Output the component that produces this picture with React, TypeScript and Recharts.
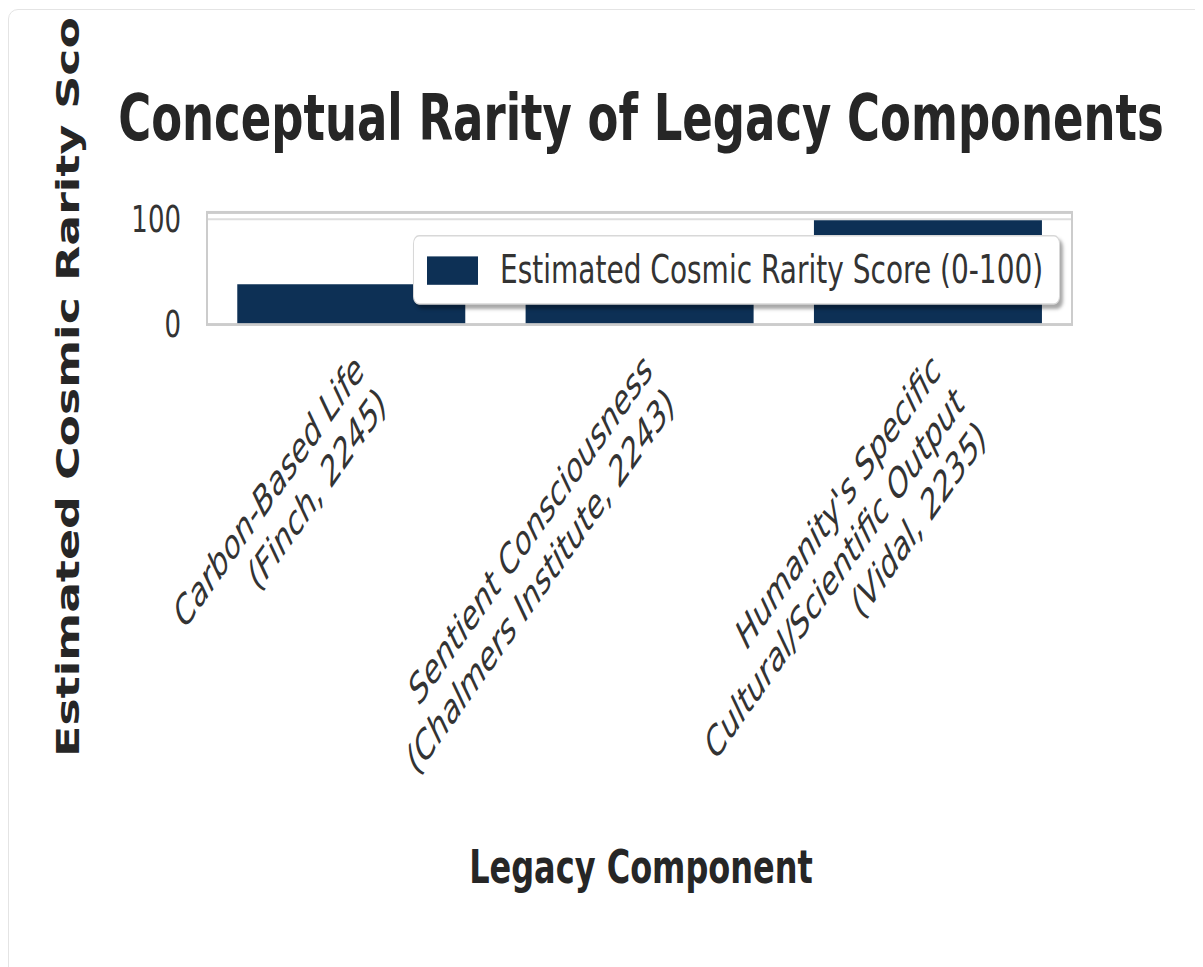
import React from 'react';
import { BarChart, Bar, XAxis, YAxis, CartesianGrid, Legend } from 'recharts';

const categories = [
  'Carbon-Based Life\n(Finch, 2245)',
  'Sentient Consciousness\n(Chalmers Institute, 2243)',
  "Humanity's Specific\nCultural/Scientific Output\n(Vidal, 2235)",
];
const rarityScores = [38, 65, 99];
const yTicks = [0, 100];
const seriesName = 'Estimated Cosmic Rarity Score (0-100)';
const chartTitle = 'Conceptual Rarity of Legacy Components';
const xTitle = 'Legacy Component';

const chartData = categories.map((name, i) => ({ name, score: rarityScores[i] }));

const BAR_COLOR = '#0d3055';
const TEXT = '#333333';
const FONT = '"DejaVu Sans", sans-serif';
// the reference image is stretched vertically, so draw flat and scale up
const STRETCH = 1.42;

const WIDTH = 1190;
const HEIGHT = 670;
const PLOT = { left: 198, top: 139.4, width: 865, height: 78.2 };
const Y_AXIS_W = 60;
const X_AXIS_H = 300;

function CategoryTick(props: { x?: number; y?: number; payload?: { value: string } }) {
  const { x = 0, y = 0, payload } = props;
  const lines = String(payload?.value ?? '').split('\n');
  return (
    <g transform={`translate(${x + 15},${y + 34}) rotate(-45)`}>
      {lines.map((line, i) => (
        <text
          key={i}
          x={0}
          y={i * 33}
          textAnchor="end"
          fill={TEXT}
          fontSize={28}
          fontStyle="italic"
          fontFamily={FONT}
        >
          {line}
        </text>
      ))}
    </g>
  );
}

function LegendBox() {
  return (
    <div
      style={{
        boxSizing: 'border-box',
        width: '100%',
        height: '100%',
        background: '#fff',
        border: '1px solid #d8d8d8',
        borderRadius: 6,
        boxShadow: '3px 3px 3px rgba(0,0,0,0.35)',
        display: 'flex',
        alignItems: 'center',
        paddingLeft: 13,
        fontFamily: FONT,
      }}
    >
      <span style={{ width: 51, height: 20, background: BAR_COLOR, display: 'inline-block' }} />
      <span style={{ marginLeft: 22, fontSize: 28, color: TEXT, whiteSpace: 'nowrap' }}>{seriesName}</span>
    </div>
  );
}

export default function App() {
  // ylabel is long enough to run off the top, as in the reference
  const yLabelY = PLOT.top + PLOT.height / 2 - 7.5;
  return (
    <div
      style={{
        position: 'relative',
        width: 1210,
        height: 975,
        border: '1px solid #e4e4e4',
        borderRadius: 10,
        background: '#fff',
        overflow: 'hidden',
        marginTop: 1,
      }}
    >
      <div style={{ position: 'absolute', left: 0, top: 5, width: WIDTH, height: HEIGHT * STRETCH, overflow: 'hidden' }}>
        <div
          style={{
            position: 'relative',
            width: WIDTH,
            height: HEIGHT,
            transform: `scale(1, ${STRETCH})`,
            transformOrigin: '0 0',
          }}
        >
          <BarChart
            width={WIDTH}
            height={HEIGHT}
            data={chartData}
            margin={{
              top: PLOT.top,
              left: PLOT.left - Y_AXIS_W,
              right: WIDTH - PLOT.left - PLOT.width,
              bottom: HEIGHT - PLOT.top - PLOT.height - X_AXIS_H,
            }}
            barCategoryGap="10.5%"
          >
            <CartesianGrid horizontal vertical={false} stroke="#dddddd" strokeWidth={1.5} />
            <XAxis
              dataKey="name"
              height={X_AXIS_H}
              interval={0}
              tickLine={false}
              axisLine={false}
              tickSize={0}
              tickMargin={0}
              tick={<CategoryTick />}
            />
            <YAxis
              width={Y_AXIS_W}
              domain={[0, 106]}
              ticks={yTicks}
              tickLine={false}
              axisLine={false}
              tickSize={0}
              tickMargin={26}
              tick={{ fill: TEXT, fontSize: 26, fontFamily: FONT }}
            />
            <Bar dataKey="score" name={seriesName} fill={BAR_COLOR} isAnimationActive={false} />
            <Legend
              verticalAlign="middle"
              align="center"
              content={() => <LegendBox />}
              wrapperStyle={{ position: 'absolute', left: 404, top: 155, width: 647, height: 49 }}
            />
          </BarChart>
          <div
            style={{
              position: 'absolute',
              left: PLOT.left - 1.25,
              top: PLOT.top - 1.25,
              width: PLOT.width + 2.5,
              height: PLOT.height + 2.5,
              boxSizing: 'border-box',
              border: '2.5px solid #cccccc',
              pointerEvents: 'none',
            }}
          />
          <svg
            width={WIDTH}
            height={HEIGHT}
            style={{ position: 'absolute', left: 0, top: 0, pointerEvents: 'none' }}
          >
            <text x={632} y={88} textAnchor="middle" fontSize={45} fontWeight="bold" fill="#262626" fontFamily={FONT}>
              {chartTitle}
            </text>
            <text
              x={59}
              y={yLabelY}
              transform={`rotate(-90 59 ${yLabelY})`}
              textAnchor="middle"
              dominantBaseline="central"
              fontSize={32.3}
              fontWeight="bold"
              fill="#262626"
              fontFamily={FONT}
            >
              {seriesName}
            </text>
            <text x={632} y={611} textAnchor="middle" fontSize={32} fontWeight="bold" fill="#262626" fontFamily={FONT}>
              {xTitle}
            </text>
          </svg>
        </div>
      </div>
    </div>
  );
}
